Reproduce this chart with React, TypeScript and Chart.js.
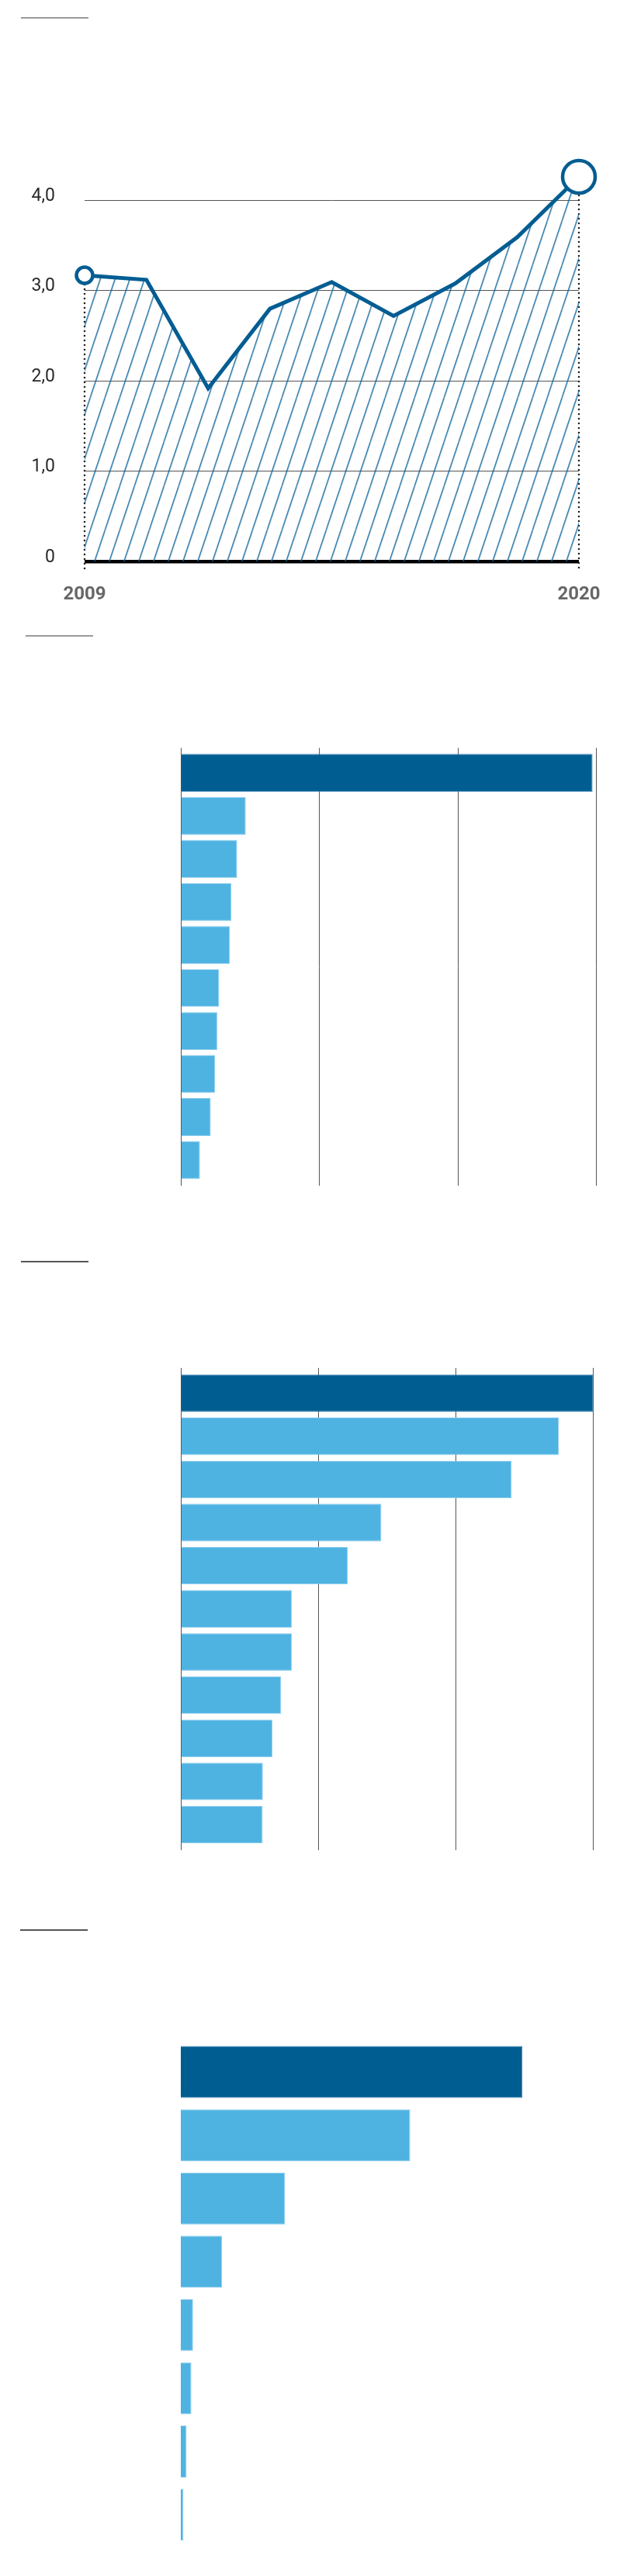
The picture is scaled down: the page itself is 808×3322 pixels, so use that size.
import React, { useEffect, useRef } from 'react';
import { Chart, registerables } from 'chart.js';

Chart.register(...registerables);

// ---------- data ----------
const lineLabels = ['2009', '', '', '', '', '', '', '', '2020'];
const lineValues = [3.17, 3.12, 1.92, 2.8, 3.095, 2.72, 3.08, 3.59, 4.26];
const lineTicks = [0, 1, 2, 3, 4];
const lineTickLabels = ['0', '1,0', '2,0', '3,0', '4,0'];

const bar1Categories = ['1', '2', '3', '4', '5', '6', '7', '8', '9', '10'];
const bar1Values = [297.3, 46.8, 40.6, 36.5, 35.2, 27.6, 26.2, 24.6, 21.5, 13.7];

const bar2Categories = ['1', '2', '3', '4', '5', '6', '7', '8', '9', '10', '11'];
const bar2Values = [300, 274.9, 240.6, 145.8, 121.4, 80.6, 80.6, 72.9, 66.6, 59.6, 59.4];

const bar3Categories = ['1', '2', '3', '4', '5', '6', '7', '8'];
const bar3Values = [82.8, 55.6, 25.3, 10.0, 3.0, 2.6, 1.43, 0.68];

const barTicks = [0, 100, 200, 300];

// ---------- styles ----------
const DARK = '#005d92';
const LIGHT = '#4fb3e2';
const DARK_EDGE = '#3d82ad';
const LIGHT_EDGE = '#8dcdee';
const LINE = '#035d92';
const HATCH = '#0f659b';
const GRID = '#555555';

function makeHatch(): CanvasPattern | string {
  const w = 19;
  const h = 57;
  const c = document.createElement('canvas');
  c.width = w;
  c.height = h;
  const g = c.getContext('2d');
  if (!g) return 'rgba(0,0,0,0)';
  g.strokeStyle = HATCH;
  g.lineWidth = 1.35;
  for (let k = -1; k <= 1; k++) {
    g.beginPath();
    g.moveTo(k * w, h);
    g.lineTo(k * w + w, 0);
    g.stroke();
  }
  const p = g.createPattern(c, 'repeat');
  if (!p) return 'rgba(0,0,0,0)';
  try {
    p.setTransform(new DOMMatrix([1, 0, 0, 1, 2.2, 0]));
  } catch (e) {}
  return p;
}

const dottedEnds = {
  id: 'dottedEnds',
  beforeDatasetsDraw(chart: any) {
    const meta = chart.getDatasetMeta(0);
    const { ctx, chartArea } = chart;
    const pts = [meta.data[0], meta.data[meta.data.length - 1]];
    ctx.save();
    ctx.strokeStyle = '#222';
    ctx.lineWidth = 2.6;
    ctx.lineCap = 'round';
    ctx.setLineDash([0, 6]);
    for (const p of pts) {
      ctx.beginPath();
      ctx.moveTo(p.x, p.y);
      ctx.lineTo(p.x, chartArea.bottom + 12.5);
      ctx.stroke();
    }
    ctx.restore();
  },
};

function lineConfig(): any {
  const last = lineValues.length - 1;
  return {
    type: 'line',
    data: {
      labels: lineLabels,
      datasets: [
        {
          data: lineValues,
          borderColor: LINE,
          borderWidth: 5,
          backgroundColor: makeHatch(),
          fill: 'origin',
          tension: 0,
          clip: false,
          pointRadius: (ctx: any) => (ctx.dataIndex === 0 ? 10.5 : ctx.dataIndex === last ? 21 : 0),
          pointBorderWidth: 4.5,
          pointBackgroundColor: '#ffffff',
          pointBorderColor: LINE,
        },
      ],
    },
    options: {
      animation: false,
      responsive: false,
      devicePixelRatio: 1,
      layout: { padding: { top: 200, right: 62, bottom: 0, left: 0 } },
      plugins: { legend: { display: false }, tooltip: { enabled: false } },
      scales: {
        x: {
          type: 'category',
          offset: false,
          grid: { display: false },
          border: { display: false },
          ticks: {
            autoSkip: false,
            maxRotation: 0,
            padding: 19.6,
            color: '#666666',
            font: { family: 'Roboto', weight: 'bold', size: 24 },
            callback: (_v: any, i: number) => lineLabels[i],
          },
          afterFit: (s: any) => {
            s.height = 55.5;
          },
        },
        y: {
          min: 0,
          max: 4.5,
          afterBuildTicks: (s: any) => {
            s.ticks = lineTicks.map((v) => ({ value: v }));
          },
          grid: {
            drawTicks: false,
            color: (ctx: any) => (ctx.tick && ctx.tick.value === 0 ? '#000000' : GRID),
            lineWidth: (ctx: any) => (ctx.tick && ctx.tick.value === 0 ? 4.5 : 1),
          },
          border: { display: false },
          ticks: {
            padding: 38,
            labelOffset: -5.5,
            color: '#2a2a2a',
            font: { family: 'Roboto', weight: 'normal', size: 23 },
            callback: (v: any) => lineTickLabels[lineTicks.indexOf(v)],
          },
          afterFit: (s: any) => {
            s.width = 109;
          },
        },
      },
    },
    plugins: [dottedEnds],
  };
}

function barConfig(
  cats: string[],
  vals: number[],
  max: number,
  barPct: number,
  padding: { top: number; bottom: number; left: number; right: number },
  grid: { top: number; bottom: number } | null
): any {
  const scales: any = {
    y: { display: false, offset: true },
  };
  if (grid) {
    scales.x = {
      min: 0,
      max,
      afterBuildTicks: (s: any) => {
        s.ticks = barTicks.map((v) => ({ value: v }));
      },
      ticks: { display: false },
      grid: { color: GRID, lineWidth: 1, tickLength: grid.bottom, drawOnChartArea: true },
      border: { display: false },
      afterFit: (s: any) => {
        s.height = grid.bottom;
      },
    };
    scales.x2 = {
      type: 'linear',
      position: 'top',
      min: 0,
      max,
      afterBuildTicks: (s: any) => {
        s.ticks = barTicks.map((v) => ({ value: v }));
      },
      ticks: { display: false },
      grid: { color: GRID, lineWidth: 1, tickLength: grid.top, drawOnChartArea: false },
      border: { display: false },
      afterFit: (s: any) => {
        s.height = grid.top;
      },
    };
  } else {
    scales.x = { min: 0, max, display: false };
  }
  return {
    type: 'bar',
    data: {
      labels: cats,
      datasets: [
        {
          data: vals,
          backgroundColor: vals.map((_, i) => (i === 0 ? DARK : LIGHT)),
          borderColor: vals.map((_, i) => (i === 0 ? DARK_EDGE : LIGHT_EDGE)),
          borderWidth: 1,
          barPercentage: barPct,
          categoryPercentage: 1,
        },
      ],
    },
    options: {
      indexAxis: 'y',
      animation: false,
      responsive: false,
      devicePixelRatio: 1,
      layout: { padding },
      plugins: { legend: { display: false }, tooltip: { enabled: false } },
      scales,
    },
  };
}

function ChartBox({ top, height, build }: { top: number; height: number; build: () => any }) {
  const ref = useRef<HTMLCanvasElement>(null);
  useEffect(() => {
    if (!ref.current) return;
    const chart = new Chart(ref.current, build());
    return () => chart.destroy();
  }, []);
  return (
    <canvas
      ref={ref}
      width={808}
      height={height}
      style={{ position: 'absolute', left: 0, top, width: 808, height }}
    />
  );
}

function Rule({ left, top, width, color }: { left: number; top: number; width: number; color: string }) {
  return <div style={{ position: 'absolute', left, top, width, height: 2, background: color }} />;
}

export default function App() {
  return (
    <div
      style={{
        position: 'absolute',
        left: 0,
        top: 0,
        width: 808,
        height: 3322,
        background: '#ffffff',
        overflow: 'hidden',
      }}
    >
      <Rule left={27} top={22} width={87} color="#9a9a9a" />
      <ChartBox top={0} height={780} build={lineConfig} />

      <Rule left={33} top={819} width={87} color="#9a9a9a" />
      <ChartBox
        top={940}
        height={620}
        build={() =>
          barConfig(bar1Categories, bar1Values, 300, 0.882, { top: 24.5, bottom: 30.8, left: 233.2, right: 39.6 }, { top: 4.6, bottom: 5.5 })
        }
      />

      <Rule left={27} top={1626} width={87} color="#555555" />
      <ChartBox
        top={1740}
        height={680}
        build={() =>
          barConfig(bar2Categories, bar2Values, 300, 0.87, { top: 24, bottom: 34, left: 233.2, right: 43.4 }, { top: 4.8, bottom: 5.2 })
        }
      />

      <Rule left={26} top={2488} width={87} color="#555555" />
      <ChartBox
        top={2600}
        height={722}
        build={() => barConfig(bar3Categories, bar3Values, 100, 0.821, { top: 31.3, bottom: 38.2, left: 232.8, right: 43.2 }, null)}
      />
    </div>
  );
}
